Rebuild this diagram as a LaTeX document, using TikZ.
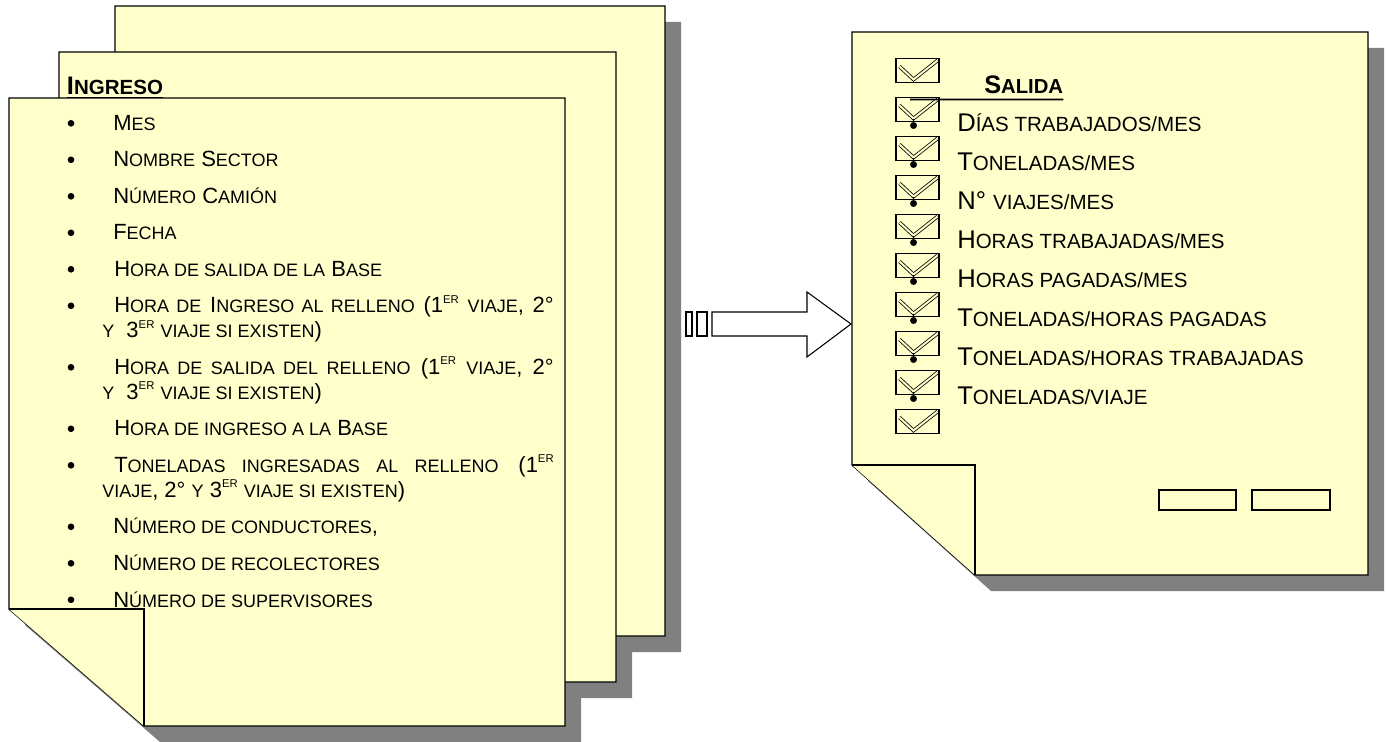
\documentclass[tikz,border=0pt]{standalone}
\usepackage{fontspec}
\setmainfont{Liberation Sans}
\usepackage{xcolor}
\usetikzlibrary{calc, positioning}

\definecolor{papel}{HTML}{FFFFCC}
\definecolor{gris}{HTML}{808080}

% versalitas simuladas y superindices
\newcommand{\pcsize}{13.5}
\newcommand{\pc}[1]{{\fontsize{\pcsize}{\pcsize}\selectfont\MakeUppercase{#1}}}
\newcommand{\ex}[1]{\raisebox{0.8ex}{\fontsize{8.5}{8.5}\selectfont #1}}

\begin{document}
\begin{tikzpicture}[x=0.75pt, y=-0.75pt,
    hoja/.style={fill=papel, draw=black, line width=1pt},
    izq/.style={anchor=base west, inner sep=0pt, font=\fontsize{16.5}{20}\selectfont\def\pcsize{13.5}},
    der/.style={anchor=base west, inner sep=0pt, font=\fontsize{19.2}{22}\selectfont\def\pcsize{15.4}},
    titulo/.style={anchor=base west, inner sep=0pt, font=\bfseries\fontsize{19}{22}\selectfont\def\pcsize{15.4}},
    flecha/.style={fill=white, draw=black, line width=0.8pt}]
    \useasboundingbox (0,0) rectangle (1388,742);

    % Sombras
    \fill[gris] (131,22) -- (681,22) -- (681,652) -- (266,652) -- (131,535) -- cycle;
    \fill[gris] (75,68) -- (632,68) -- (632,698) -- (210,698) -- (75,581) -- cycle;
    \fill[gris] (25,114) -- (581,114) -- (581,742) -- (160,742) -- (25,625) -- cycle;
    \fill[gris] (868,48) -- (1384,48) -- (1384,591) -- (991,591) -- (868,481) -- cycle;

    % Hojas de ingreso
    \draw[hoja] (115,6) -- (665,6) -- (665,636) -- (250,636) -- (115,519) -- cycle;
    \draw[hoja] (59,52) -- (616,52) -- (616,682) -- (194,682) -- (59,565) -- cycle;
    \draw[hoja] (9,98) -- (565,98) -- (565,726) -- (144,726) -- (9,609) -- cycle;
    \draw[hoja] (9,609) -- (144,609) -- (144,726);

    \node[titulo] (ingreso) at (66.7,94) {I\pc{ngreso}};
    \draw[line width=1.4pt] ($(ingreso.base west)+(0,3.5)$) -- ($(ingreso.base east)+(0,3.5)$);

    \foreach \y in {130,166.5,203,239.5,276,312.5,374,435.5,472,533.5,570,606.5} {
        \fill (71,{\y-6.7}) circle (2.5pt);
    }

    \node[izq] (mes) at (113,130) {M\pc{es}};
    \node[izq] (sector) at (113,166.5) {N\pc{ombre} S\pc{ector}};
    \node[izq] (camion) at (113,203) {N\pc{úmero} C\pc{amión}};
    \node[izq] (fecha) at (113,239.5) {F\pc{echa}};
    \node[izq] (hsb) at (114,276) {H\pc{ora de salida de la} B\pc{ase}};
    \node[izq] (hir) at (114,312.5) {\makebox[329.6pt][s]{H\pc{ora de} I\pc{ngreso al relleno} (1\ex{ER} \pc{viaje}, 2°}};
    \node[izq] (hirb) at (102,337.5) {\pc{y}\ \ 3\ex{ER} \pc{viaje si existen})};
    \node[izq] (hsr) at (114,374) {\makebox[329.6pt][s]{H\pc{ora de salida del relleno} (1\ex{ER} \pc{viaje}, 2°}};
    \node[izq] (hsrb) at (102,399) {\pc{y}\ \ 3\ex{ER} \pc{viaje si existen})};
    \node[izq] (hib) at (114,435.5) {H\pc{ora de ingreso a la} B\pc{ase}};
    \node[izq] (ton) at (114,472) {\makebox[329.6pt][s]{T\pc{oneladas ingresadas al relleno} (1\ex{ER}}};
    \node[izq] (tonb) at (102,497) {\pc{viaje}, 2° \pc{y} 3\ex{ER} \pc{viaje si existen})};
    \node[izq] (cond) at (113,533.5) {N\pc{úmero de conductores},};
    \node[izq] (reco) at (113,570) {N\pc{úmero de recolectores}};
    \node[izq] (supe) at (113,607.5) {N\pc{úmero de supervisores}};

    % Flecha
    \draw[flecha] (686,312) rectangle (692,336);
    \draw[flecha] (697,312) rectangle (707,336);
    \draw[flecha] (712,312) -- (807,312) -- (807,292) -- (851,324) -- (807,357) -- (807,336) -- (712,336) -- cycle;

    % Hoja de salida
    \draw[hoja] (852,32) -- (1368,32) -- (1368,575) -- (975,575) -- (852,465) -- cycle;
    \draw[hoja] (852,465) -- (975,465) -- (975,575);
    \draw[hoja, line width=1.2pt] (1159,490) rectangle (1236,510);
    \draw[hoja, line width=1.2pt] (1252,490) rectangle (1330,510);

    \foreach \k in {0,...,9} {
        \draw[fill=papel, line width=1pt] (896,{58.5+39*\k}) rectangle (939,{82.5+39*\k});
        \draw[line width=0.6pt, double=papel, double distance=1.5pt]
            (899.5,{66.5+39*\k}) -- (913.5,{79.5+39*\k}) -- (937.5,{60.5+39*\k});
    }
    \foreach \k in {1,...,8} {
        \draw[line width=1pt] (913.5,{79.5+39*\k}) -- (913.5,{86.5+39*\k});
        \fill (913.5,{86.5+39*\k}) circle (2.6pt);
    }

    \node[titulo, font=\bfseries\fontsize{19}{22}\selectfont\def\pcsize{15.2}] (salida) at (984,93.3) {S\pc{alida}};
    \draw[line width=1.4pt] (910,99.5) -- ($(salida.base east)+(0,6.2)$);

    \node[der] (dias) at (957,131.5) {D\pc{ías trabajados/mes}};
    \node[der] (tmes) at (957,170.5) {T\pc{oneladas/mes}};
    \node[der] (viajes) at (957,209.5) {N° \pc{viajes/mes}};
    \node[der] (htmes) at (957,248.5) {H\pc{oras trabajadas/mes}};
    \node[der] (hpmes) at (957,287.5) {H\pc{oras pagadas/mes}};
    \node[der] (thp) at (957,326.5) {T\pc{oneladas/horas pagadas}};
    \node[der] (tht) at (957,365.5) {T\pc{oneladas/horas trabajadas}};
    \node[der] (tviaje) at (957,404.5) {T\pc{oneladas/viaje}};
\end{tikzpicture}
\end{document}
